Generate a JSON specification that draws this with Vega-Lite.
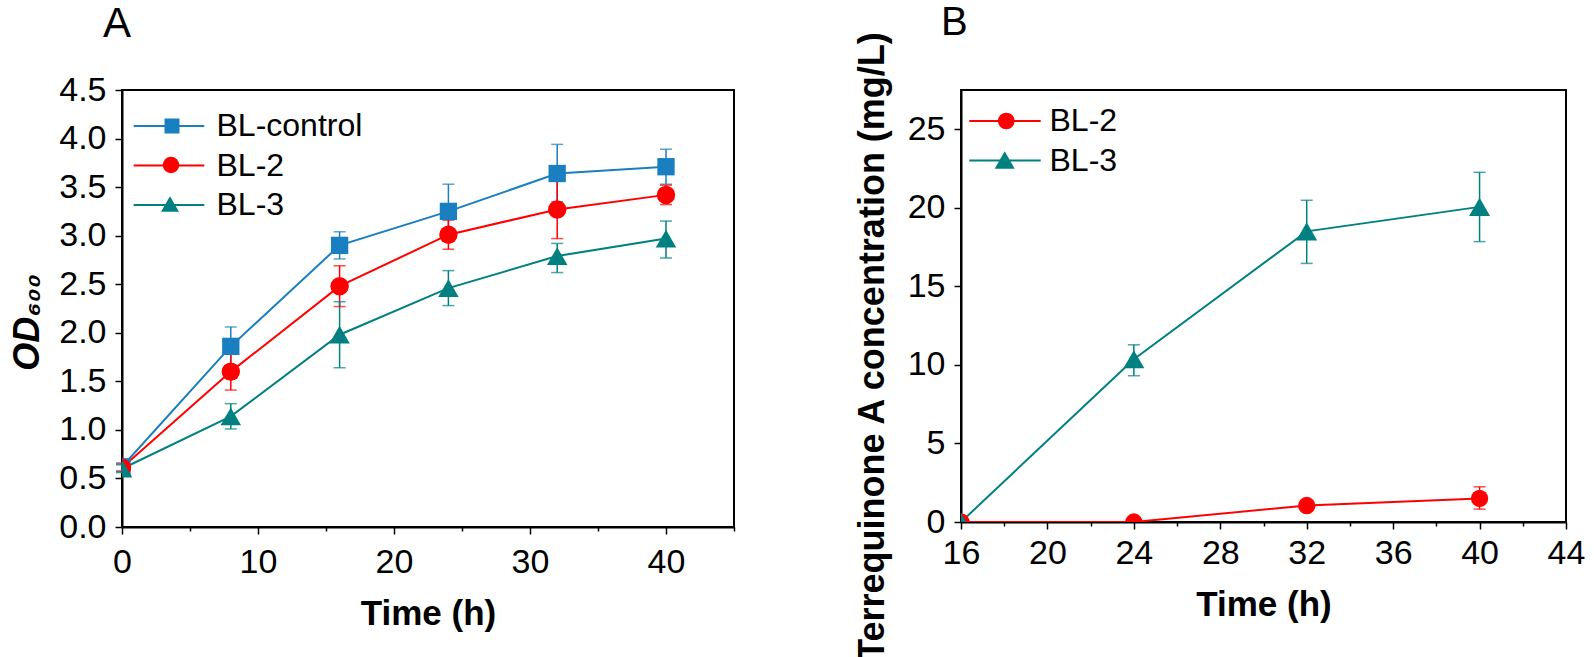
{
  "$schema": "https://vega.github.io/schema/vega-lite/v6.json",
  "padding": {"left": 8, "top": 2, "right": 0, "bottom": 0},
  "background": "white",
  "config": {
    "font": "Liberation Sans",
    "view": {"stroke": "black", "strokeWidth": 2},
    "axis": {
      "domainColor": "black", "domainWidth": 2, "tickColor": "black", "tickWidth": 1.5,
      "labelColor": "black", "titleColor": "black", "grid": false,
      "labelFont": "Liberation Sans", "titleFont": "Liberation Sans",
      "labelFontSize": 34, "titleFontSize": 35, "titleFontWeight": "bold",
      "labelFlush": false, "labelOverlap": false
    },
    "legend": {"labelFont": "Liberation Sans", "labelFontSize": 32, "labelColor": "black", "padding": 0, "rowPadding": 7.5, "symbolSize": 400, "symbolStrokeWidth": 2, "title": null, "orient": "none"},
    "title": {"font": "Liberation Sans", "fontWeight": "normal", "color": "black"}
  },
  "datasets": {
    "a": [
      {"series": "BL-control", "t": 0, "y": 0.62, "lo": 0.58, "hi": 0.66},
      {"series": "BL-control", "t": 8, "y": 1.86, "lo": 1.66, "hi": 2.06},
      {"series": "BL-control", "t": 16, "y": 2.90, "lo": 2.76, "hi": 3.04},
      {"series": "BL-control", "t": 24, "y": 3.25, "lo": 2.97, "hi": 3.53},
      {"series": "BL-control", "t": 32, "y": 3.64, "lo": 3.35, "hi": 3.94},
      {"series": "BL-control", "t": 40, "y": 3.71, "lo": 3.53, "hi": 3.89},
      {"series": "BL-2", "t": 0, "y": 0.61, "lo": 0.57, "hi": 0.65},
      {"series": "BL-2", "t": 8, "y": 1.60, "lo": 1.41, "hi": 1.79},
      {"series": "BL-2", "t": 16, "y": 2.48, "lo": 2.27, "hi": 2.69},
      {"series": "BL-2", "t": 24, "y": 3.01, "lo": 2.86, "hi": 3.16},
      {"series": "BL-2", "t": 32, "y": 3.27, "lo": 2.97, "hi": 3.57},
      {"series": "BL-2", "t": 40, "y": 3.42, "lo": 3.32, "hi": 3.52},
      {"series": "BL-3", "t": 0, "y": 0.60, "lo": 0.56, "hi": 0.64},
      {"series": "BL-3", "t": 8, "y": 1.14, "lo": 1.01, "hi": 1.27},
      {"series": "BL-3", "t": 16, "y": 1.98, "lo": 1.64, "hi": 2.32},
      {"series": "BL-3", "t": 24, "y": 2.46, "lo": 2.28, "hi": 2.64},
      {"series": "BL-3", "t": 32, "y": 2.79, "lo": 2.62, "hi": 2.92},
      {"series": "BL-3", "t": 40, "y": 2.97, "lo": 2.77, "hi": 3.15}
    ],
    "b": [
      {"series": "BL-2", "t": 16, "y": 0, "lo": 0, "hi": 0},
      {"series": "BL-2", "t": 24, "y": 0, "lo": 0, "hi": 0},
      {"series": "BL-2", "t": 32, "y": 1.05, "lo": 0.95, "hi": 1.15},
      {"series": "BL-2", "t": 40, "y": 1.5, "lo": 0.82, "hi": 2.24},
      {"series": "BL-3", "t": 16, "y": 0, "lo": 0, "hi": 0},
      {"series": "BL-3", "t": 24, "y": 10.36, "lo": 9.31, "hi": 11.28},
      {"series": "BL-3", "t": 32, "y": 18.5, "lo": 16.46, "hi": 20.48},
      {"series": "BL-3", "t": 40, "y": 20.06, "lo": 17.85, "hi": 22.26}
    ]
  },
  "spacing": 117,
  "resolve": {
    "scale": {"color": "independent", "x": "independent", "y": "independent"},
    "legend": {"color": "independent"}
  },
  "hconcat": [
    {
      "width": 612, "height": 437,
      "title": {"text": "A", "anchor": "start", "frame": "group", "fontSize": 42, "baseline": "alphabetic", "offset": -6, "dx": -19},
      "data": {"name": "a"},
      "resolve": {"legend": {"color": "independent"}},
      "encoding": {
        "x": {
          "field": "t", "type": "quantitative", "title": "Time (h)",
          "scale": {"domain": [0, 45], "nice": false, "zero": false},
          "axis": {
            "values": [0, 5, 10, 15, 20, 25, 30, 35, 40, 45],
            "labelExpr": "datum.value % 10 === 0 ? format(datum.value, 'd') : ''",
            "tickSize": {"condition": {"test": "datum.value % 10 === 0", "value": 7}, "value": 4},
            "labelPadding": 11, "titlePadding": 17
          }
        }
      },
      "layer": [
        {
          "mark": {"type": "line", "strokeWidth": 2},
          "encoding": {
            "y": {
              "field": "y", "type": "quantitative", "title": "OD₆₀₀",
              "scale": {"domain": [0, 4.5], "nice": false},
              "axis": {
                "values": [0, 0.25, 0.5, 0.75, 1, 1.25, 1.5, 1.75, 2, 2.25, 2.5, 2.75, 3, 3.25, 3.5, 3.75, 4, 4.25, 4.5],
                "labelExpr": "datum.value % 0.5 === 0 ? format(datum.value, '.1f') : ''",
                "tickSize": {"condition": {"test": "datum.value % 0.5 === 0", "value": 7}, "value": 4},
                "labelPadding": 9,
                "titleFontStyle": "italic", "titleFontSize": 36, "titlePadding": 12, "titleY": 232
              }
            },
            "color": {
              "field": "series", "type": "nominal",
              "scale": {"domain": ["BL-control", "BL-2", "BL-3"], "range": ["#1a7fc1", "#ff0000", "#008080"]},
              "legend": {
                "legendX": 31, "legendY": 20,
                "symbolType": "M-3.53,0H3.53", "symbolSize": 400, "symbolStrokeWidth": 2,
                "labelOffset": 31.5
              }
            }
          }
        },
        {
          "mark": {"type": "rule", "strokeWidth": 1.5},
          "encoding": {
            "y": {"field": "lo", "type": "quantitative", "title": "OD₆₀₀"},
            "y2": {"field": "hi"},
            "color": {"field": "series", "type": "nominal", "legend": null}
          }
        },
        {
          "mark": {"type": "tick", "orient": "horizontal", "size": 12, "thickness": 1.5},
          "encoding": {
            "y": {"field": "lo", "type": "quantitative", "title": "OD₆₀₀"},
            "color": {"field": "series", "type": "nominal", "legend": null}
          }
        },
        {
          "mark": {"type": "tick", "orient": "horizontal", "size": 12, "thickness": 1.5},
          "encoding": {
            "y": {"field": "hi", "type": "quantitative", "title": "OD₆₀₀"},
            "color": {"field": "series", "type": "nominal", "legend": null}
          }
        },
        {
          "transform": [{"filter": {"field": "series", "equal": "BL-control"}}],
          "mark": {"type": "point", "shape": "square", "size": 300, "filled": true, "opacity": 1, "clip": true},
          "encoding": {
            "y": {"field": "y", "type": "quantitative", "title": "OD₆₀₀"},
            "color": {
              "field": "series", "type": "nominal",
              "legend": {"values": ["BL-control"], "symbolType": "square", "symbolSize": 225, "symbolStrokeWidth": 0, "legendX": 34, "legendY": 20, "labelOffset": 31.5, "labelOpacity": 0}
            }
          }
        },
        {
          "transform": [{"filter": {"field": "series", "equal": "BL-2"}}],
          "mark": {"type": "point", "shape": "circle", "size": 340, "filled": true, "opacity": 1, "clip": true},
          "encoding": {
            "y": {"field": "y", "type": "quantitative", "title": "OD₆₀₀"},
            "color": {
              "field": "series", "type": "nominal",
              "legend": {"values": ["BL-2"], "symbolType": "circle", "symbolSize": 272, "symbolStrokeWidth": 0, "legendX": 33, "legendY": 59, "labelOffset": 31.5, "labelOpacity": 0}
            }
          }
        },
        {
          "transform": [{"filter": {"field": "series", "equal": "BL-3"}}],
          "mark": {"type": "point", "shape": "triangle-up", "size": 420, "filled": true, "opacity": 1, "clip": true},
          "encoding": {
            "y": {"field": "y", "type": "quantitative", "title": "OD₆₀₀"},
            "color": {
              "field": "series", "type": "nominal",
              "legend": {"values": ["BL-3"], "symbolType": "triangle-up", "symbolSize": 324, "symbolStrokeWidth": 0, "legendX": 32, "legendY": 98, "labelOffset": 31.5, "labelOpacity": 0}
            }
          }
        }
      ]
    },
    {
      "width": 605, "height": 432,
      "title": {"text": "B", "anchor": "start", "frame": "group", "fontSize": 40, "baseline": "alphabetic", "offset": -45, "dx": -20},
      "data": {"name": "b"},
      "resolve": {"legend": {"color": "independent"}},
      "encoding": {
        "x": {
          "field": "t", "type": "quantitative", "title": "Time (h)",
          "scale": {"domain": [16, 44], "nice": false, "zero": false},
          "axis": {
            "values": [16, 18, 20, 22, 24, 26, 28, 30, 32, 34, 36, 38, 40, 42, 44],
            "labelExpr": "datum.value % 4 === 0 ? format(datum.value, 'd') : ''",
            "tickSize": {"condition": {"test": "datum.value % 4 === 0", "value": 7}, "value": 4},
            "labelPadding": 7, "titlePadding": 17
          }
        }
      },
      "layer": [
        {
          "mark": {"type": "line", "strokeWidth": 2, "clip": true},
          "encoding": {
            "y": {
              "field": "y", "type": "quantitative", "title": "Terrequinone A concentration (mg/L)",
              "scale": {"domain": [0, 27.5], "nice": false},
              "axis": {
                "values": [0, 2.5, 5, 7.5, 10, 12.5, 15, 17.5, 20, 22.5, 25, 27.5],
                "labelExpr": "datum.value % 5 === 0 ? format(datum.value, 'd') : ''",
                "tickSize": {"condition": {"test": "datum.value % 5 === 0", "value": 7}, "value": 4},
                "labelPadding": 9,
                "titleFontSize": 36, "titlePadding": 16, "titleY": 256
              }
            },
            "color": {
              "field": "series", "type": "nominal",
              "scale": {"domain": ["BL-2", "BL-3"], "range": ["#ff0000", "#008080"]},
              "legend": {
                "legendX": 28, "legendY": 15,
                "symbolType": "M-3.57,0H3.57", "symbolSize": 400, "symbolStrokeWidth": 2,
                "labelOffset": 28.5
              }
            }
          }
        },
        {
          "mark": {"type": "rule", "strokeWidth": 1.5},
          "encoding": {
            "y": {"field": "lo", "type": "quantitative", "title": "Terrequinone A concentration (mg/L)"},
            "y2": {"field": "hi"},
            "color": {"field": "series", "type": "nominal", "legend": null}
          }
        },
        {
          "mark": {"type": "tick", "orient": "horizontal", "size": 12, "thickness": 1.5, "clip": true},
          "encoding": {
            "y": {"field": "lo", "type": "quantitative", "title": "Terrequinone A concentration (mg/L)"},
            "color": {"field": "series", "type": "nominal", "legend": null}
          }
        },
        {
          "mark": {"type": "tick", "orient": "horizontal", "size": 12, "thickness": 1.5, "clip": true},
          "encoding": {
            "y": {"field": "hi", "type": "quantitative", "title": "Terrequinone A concentration (mg/L)"},
            "color": {"field": "series", "type": "nominal", "legend": null}
          }
        },
        {
          "transform": [{"filter": {"field": "series", "equal": "BL-2"}}],
          "mark": {"type": "point", "shape": "circle", "size": 300, "filled": true, "opacity": 1, "clip": true},
          "encoding": {
            "y": {"field": "y", "type": "quantitative", "title": "Terrequinone A concentration (mg/L)"},
            "color": {
              "field": "series", "type": "nominal",
              "legend": {"values": ["BL-2"], "symbolType": "circle", "symbolSize": 280, "symbolStrokeWidth": 0, "legendX": 29.3, "legendY": 15, "labelOffset": 28.5, "labelOpacity": 0}
            }
          }
        },
        {
          "transform": [{"filter": {"field": "series", "equal": "BL-3"}}],
          "mark": {"type": "point", "shape": "triangle-up", "size": 440, "filled": true, "opacity": 1, "clip": true},
          "encoding": {
            "y": {"field": "y", "type": "quantitative", "title": "Terrequinone A concentration (mg/L)"},
            "color": {
              "field": "series", "type": "nominal",
              "legend": {"values": ["BL-3"], "symbolType": "triangle-up", "symbolSize": 400, "symbolStrokeWidth": 0, "legendX": 27.7, "legendY": 54, "labelOffset": 28.5, "labelOpacity": 0}
            }
          }
        }
      ]
    }
  ]
}
